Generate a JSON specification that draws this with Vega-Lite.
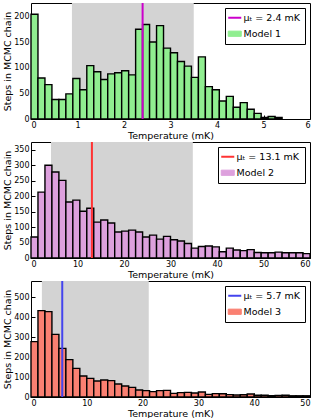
{
  "$schema": "https://vega.github.io/schema/vega-lite/v6.json",
  "padding": {"left": 2, "top": 1, "right": 5, "bottom": 0},
  "spacing": 0,
  "resolve": {"scale": {"color": "independent"}, "legend": {"color": "independent"}},
  "config": {
    "font": "DejaVu Sans",
    "view": {"stroke": "black", "strokeWidth": 1},
    "axis": {"grid": false, "domain": false, "tickSize": -4, "tickColor": "black", "labelPadding": 6, "labelFontSize": 8, "labelColor": "black", "titleFontSize": 9.5, "titleFontWeight": "normal", "titleColor": "black", "titlePadding": 1}
  },
  "vconcat": [
    {
      "width": 279, "height": 116,
      "layer": [
        {"data": {"values": [{"lo": 0.88, "hi": 3.5}]}, "mark": {"type": "rect", "color": "#d3d3d3"},
         "encoding": {"x": {"field": "lo", "type": "quantitative", "scale": {"domain": [0, 6], "nice": false}, "axis": {"values": [0,1,2,3,4,5,6], "title": "Temperature (mK)"}}, "x2": {"field": "hi"}}},
        {"data": {"values": [
          {"b0":0,"b1":0.15,"n":204},{"b0":0.15,"b1":0.3,"n":80},{"b0":0.3,"b1":0.45,"n":67},{"b0":0.45,"b1":0.6,"n":38},{"b0":0.6,"b1":0.75,"n":38},{"b0":0.75,"b1":0.9,"n":49},{"b0":0.9,"b1":1.05,"n":79},{"b0":1.05,"b1":1.2,"n":57},{"b0":1.2,"b1":1.35,"n":104},{"b0":1.35,"b1":1.5,"n":92},{"b0":1.5,"b1":1.65,"n":77},{"b0":1.65,"b1":1.8,"n":88},{"b0":1.8,"b1":1.95,"n":90},{"b0":1.95,"b1":2.1,"n":94},{"b0":2.1,"b1":2.25,"n":86},{"b0":2.25,"b1":2.4,"n":175},{"b0":2.4,"b1":2.55,"n":184},{"b0":2.55,"b1":2.7,"n":150},{"b0":2.7,"b1":2.85,"n":182},{"b0":2.85,"b1":3.0,"n":138},{"b0":3.0,"b1":3.15,"n":129},{"b0":3.15,"b1":3.3,"n":112},{"b0":3.3,"b1":3.45,"n":103},{"b0":3.45,"b1":3.6,"n":81},{"b0":3.6,"b1":3.75,"n":121},{"b0":3.75,"b1":3.9,"n":63},{"b0":3.9,"b1":4.05,"n":57},{"b0":4.05,"b1":4.2,"n":35},{"b0":4.2,"b1":4.35,"n":44},{"b0":4.35,"b1":4.5,"n":23},{"b0":4.5,"b1":4.65,"n":32},{"b0":4.65,"b1":4.8,"n":19},{"b0":4.8,"b1":4.95,"n":11},{"b0":4.95,"b1":5.1,"n":3},{"b0":5.1,"b1":5.25,"n":5},{"b0":5.25,"b1":5.4,"n":3}
        ]},
         "transform": [{"calculate": "'Model 1'", "as": "s"}],
         "mark": {"type": "bar", "stroke": "#000000", "strokeWidth": 1.4, "strokeOpacity": 1, "opacity": 1},
         "encoding": {
           "x": {"field": "b0", "type": "quantitative"}, "x2": {"field": "b1"},
           "y": {"field": "n", "type": "quantitative", "scale": {"domain": [0, 226], "nice": false}, "axis": {"values": [0,50,100,150,200], "title": "Steps in MCMC chain"}},
           "y2": {"datum": 0},
           "color": {"field": "s", "type": "nominal", "scale": {"domain": ["μₜ = 2.4 mK", "Model 1"], "range": ["#cc00cc", "#90ee90"]},
             "legend": {"title": null, "orient": "top-right", "offset": 5, "strokeColor": "black", "fillColor": "white", "padding": 5, "cornerRadius": 0, "labelFontSize": 9.5, "labelColor": "black", "symbolSize": 170, "rowPadding": 5,
               "encoding": {"symbols": {
                 "shape": {"value": {"expr": "datum.value == 'Model 1' ? 'M-1,-0.4H1V0.4H-1Z' : 'M-1,0H1'"}},
                 "fill": {"value": {"expr": "datum.value == 'Model 1' ? '#90ee90' : 'transparent'"}},
                 "stroke": {"value": {"expr": "datum.value == 'Model 1' ? 'black' : '#dd55dd'"}},
                 "strokeWidth": {"value": {"expr": "datum.value == 'Model 1' ? 1 : 2"}}}}}}
         }},
        {"data": {"values": [{"v": 2.4, "s": "μₜ = 2.4 mK"}]}, "mark": {"type": "rule", "strokeWidth": 2},
         "encoding": {"x": {"field": "v", "type": "quantitative"}, "color": {"field": "s", "type": "nominal"}}}
      ]
    },
    {
      "width": 279, "height": 116,
      "layer": [
        {"data": {"values": [{"lo": 4.3, "hi": 34.8}]}, "mark": {"type": "rect", "color": "#d3d3d3"},
         "encoding": {"x": {"field": "lo", "type": "quantitative", "scale": {"domain": [0, 60], "nice": false}, "axis": {"values": [0,10,20,30,40,50,60], "title": "Temperature (mK)"}}, "x2": {"field": "hi"}}},
        {"data": {"values": [
          {"b0":0,"b1":1.5,"n":68},{"b0":1.5,"b1":3,"n":213},{"b0":3,"b1":4.5,"n":300},{"b0":4.5,"b1":6,"n":278},{"b0":6,"b1":7.5,"n":251},{"b0":7.5,"b1":9,"n":181},{"b0":9,"b1":10.5,"n":187},{"b0":10.5,"b1":12,"n":151},{"b0":12,"b1":13.5,"n":161},{"b0":13.5,"b1":15,"n":116},{"b0":15,"b1":16.5,"n":123},{"b0":16.5,"b1":18,"n":113},{"b0":18,"b1":19.5,"n":84},{"b0":19.5,"b1":21,"n":87},{"b0":21,"b1":22.5,"n":90},{"b0":22.5,"b1":24,"n":84},{"b0":24,"b1":25.5,"n":68},{"b0":25.5,"b1":27,"n":74},{"b0":27,"b1":28.5,"n":61},{"b0":28.5,"b1":30,"n":70},{"b0":30,"b1":31.5,"n":59},{"b0":31.5,"b1":33,"n":55},{"b0":33,"b1":34.5,"n":47},{"b0":34.5,"b1":36,"n":32},{"b0":36,"b1":37.5,"n":37},{"b0":37.5,"b1":39,"n":39},{"b0":39,"b1":40.5,"n":36},{"b0":40.5,"b1":42,"n":20},{"b0":42,"b1":43.5,"n":32},{"b0":43.5,"b1":45,"n":26},{"b0":45,"b1":46.5,"n":24},{"b0":46.5,"b1":48,"n":27},{"b0":48,"b1":49.5,"n":18},{"b0":49.5,"b1":51,"n":17},{"b0":51,"b1":52.5,"n":17},{"b0":52.5,"b1":54,"n":19},{"b0":54,"b1":55.5,"n":17},{"b0":55.5,"b1":57,"n":17},{"b0":57,"b1":58.5,"n":17},{"b0":58.5,"b1":60,"n":14}
        ]},
         "transform": [{"calculate": "'Model 2'", "as": "s"}],
         "mark": {"type": "bar", "stroke": "#000000", "strokeWidth": 1.4, "strokeOpacity": 1, "opacity": 1},
         "encoding": {
           "x": {"field": "b0", "type": "quantitative"}, "x2": {"field": "b1"},
           "y": {"field": "n", "type": "quantitative", "scale": {"domain": [0, 375], "nice": false}, "axis": {"values": [0,50,100,150,200,250,300,350], "title": "Steps in MCMC chain"}},
           "y2": {"datum": 0},
           "color": {"field": "s", "type": "nominal", "scale": {"domain": ["μₜ = 13.1 mK", "Model 2"], "range": ["#ff3333", "#dda0dd"]},
             "legend": {"title": null, "orient": "top-right", "offset": 5, "strokeColor": "black", "fillColor": "white", "padding": 5, "cornerRadius": 0, "labelFontSize": 9.5, "labelColor": "black", "symbolSize": 170, "rowPadding": 5,
               "encoding": {"symbols": {
                 "shape": {"value": {"expr": "datum.value == 'Model 2' ? 'M-1,-0.4H1V0.4H-1Z' : 'M-1,0H1'"}},
                 "fill": {"value": {"expr": "datum.value == 'Model 2' ? '#dda0dd' : 'transparent'"}},
                 "stroke": {"value": {"expr": "datum.value == 'Model 2' ? 'black' : '#ff2222'"}},
                 "strokeWidth": {"value": {"expr": "datum.value == 'Model 2' ? 1 : 2"}}}}}}
         }},
        {"data": {"values": [{"v": 13.1, "s": "μₜ = 13.1 mK"}]}, "mark": {"type": "rule", "strokeWidth": 2},
         "encoding": {"x": {"field": "v", "type": "quantitative"}, "color": {"field": "s", "type": "nominal"}}}
      ]
    },
    {
      "width": 279, "height": 116,
      "layer": [
        {"data": {"values": [{"lo": 1.95, "hi": 21.1}]}, "mark": {"type": "rect", "color": "#d3d3d3"},
         "encoding": {"x": {"field": "lo", "type": "quantitative", "scale": {"domain": [0, 50], "nice": false}, "axis": {"values": [0,10,20,30,40,50], "title": "Temperature (mK)"}}, "x2": {"field": "hi"}}},
        {"data": {"values": [
          {"b0":0,"b1":1.25,"n":277},{"b0":1.25,"b1":2.5,"n":432},{"b0":2.5,"b1":3.75,"n":427},{"b0":3.75,"b1":5,"n":313},{"b0":5,"b1":6.25,"n":243},{"b0":6.25,"b1":7.5,"n":187},{"b0":7.5,"b1":8.75,"n":143},{"b0":8.75,"b1":10,"n":105},{"b0":10,"b1":11.25,"n":93},{"b0":11.25,"b1":12.5,"n":80},{"b0":12.5,"b1":13.75,"n":85},{"b0":13.75,"b1":15,"n":82},{"b0":15,"b1":16.25,"n":65},{"b0":16.25,"b1":17.5,"n":55},{"b0":17.5,"b1":18.75,"n":48},{"b0":18.75,"b1":20,"n":35},{"b0":20,"b1":21.25,"n":32},{"b0":21.25,"b1":22.5,"n":27},{"b0":22.5,"b1":23.75,"n":32},{"b0":23.75,"b1":25,"n":33},{"b0":25,"b1":26.25,"n":18},{"b0":26.25,"b1":27.5,"n":22},{"b0":27.5,"b1":28.75,"n":23},{"b0":28.75,"b1":30,"n":20},{"b0":30,"b1":31.25,"n":25},{"b0":31.25,"b1":32.5,"n":13},{"b0":32.5,"b1":33.75,"n":17},{"b0":33.75,"b1":35,"n":16},{"b0":35,"b1":36.25,"n":12},{"b0":36.25,"b1":37.5,"n":10},{"b0":37.5,"b1":38.75,"n":11},{"b0":38.75,"b1":40,"n":15},{"b0":40,"b1":41.25,"n":9},{"b0":41.25,"b1":42.5,"n":9},{"b0":42.5,"b1":43.75,"n":7},{"b0":43.75,"b1":45,"n":8},{"b0":45,"b1":46.25,"n":9},{"b0":46.25,"b1":47.5,"n":6},{"b0":47.5,"b1":48.75,"n":6},{"b0":48.75,"b1":50,"n":6}
        ]},
         "transform": [{"calculate": "'Model 3'", "as": "s"}],
         "mark": {"type": "bar", "stroke": "#000000", "strokeWidth": 1.4, "strokeOpacity": 1, "opacity": 1},
         "encoding": {
           "x": {"field": "b0", "type": "quantitative"}, "x2": {"field": "b1"},
           "y": {"field": "n", "type": "quantitative", "scale": {"domain": [0, 580], "nice": false}, "axis": {"values": [0,100,200,300,400,500], "title": "Steps in MCMC chain"}},
           "y2": {"datum": 0},
           "color": {"field": "s", "type": "nominal", "scale": {"domain": ["μₜ = 5.7 mK", "Model 3"], "range": ["#4444ee", "#fa8072"]},
             "legend": {"title": null, "orient": "top-right", "offset": 5, "strokeColor": "black", "fillColor": "white", "padding": 5, "cornerRadius": 0, "labelFontSize": 9.5, "labelColor": "black", "symbolSize": 170, "rowPadding": 5,
               "encoding": {"symbols": {
                 "shape": {"value": {"expr": "datum.value == 'Model 3' ? 'M-1,-0.4H1V0.4H-1Z' : 'M-1,0H1'"}},
                 "fill": {"value": {"expr": "datum.value == 'Model 3' ? '#fa8072' : 'transparent'"}},
                 "stroke": {"value": {"expr": "datum.value == 'Model 3' ? 'black' : '#2222ff'"}},
                 "strokeWidth": {"value": {"expr": "datum.value == 'Model 3' ? 1 : 2"}}}}}}
         }},
        {"data": {"values": [{"v": 5.6, "s": "μₜ = 5.7 mK"}]}, "mark": {"type": "rule", "strokeWidth": 2},
         "encoding": {"x": {"field": "v", "type": "quantitative"}, "color": {"field": "s", "type": "nominal"}}}
      ]
    }
  ]
}
